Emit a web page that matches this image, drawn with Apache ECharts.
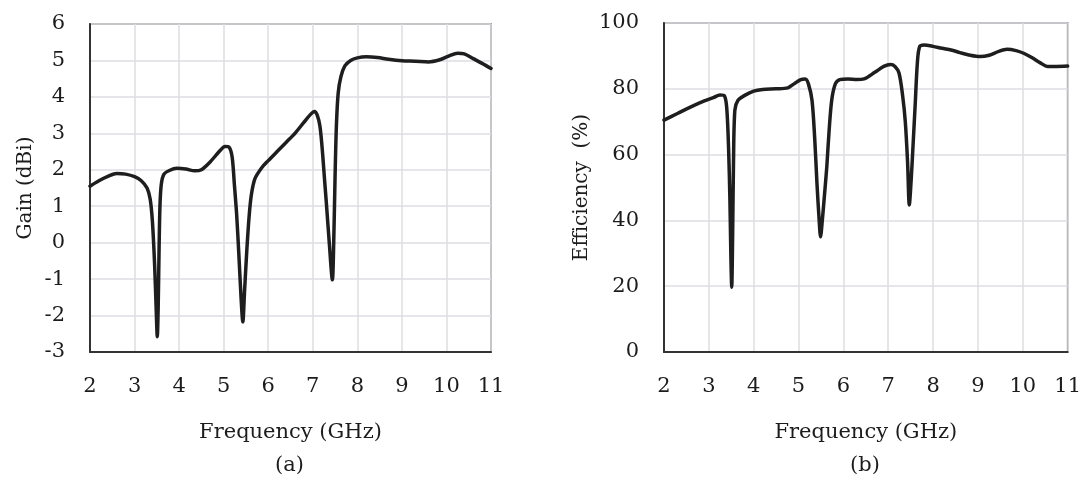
<!DOCTYPE html>
<html>
<head>
<meta charset="utf-8">
<script src="https://cdn.jsdelivr.net/npm/echarts@6/dist/echarts.min.js"></script>
<style>
html,body{margin:0;padding:0;background:#fff;}
#c{width:1084px;height:489px;}
</style>
</head>
<body>
<div id="c"></div>
<script>
// Gain (a): frequency (GHz) and gain (dBi)
const gainFreq = [2.0,2.2,2.4,2.6,2.8,3.0,3.15,3.28,3.35,3.40,3.45,3.49,3.51,3.53,3.55,3.57,3.60,3.66,3.78,3.95,4.15,4.35,4.5,4.7,4.9,5.03,5.12,5.19,5.24,5.29,5.34,5.39,5.43,5.47,5.52,5.57,5.62,5.7,5.85,6.0,6.2,6.4,6.6,6.8,6.95,7.04,7.1,7.16,7.21,7.26,7.31,7.37,7.44,7.47,7.50,7.53,7.57,7.63,7.72,7.85,8.0,8.2,8.45,8.7,9.0,9.3,9.6,9.85,10.05,10.25,10.4,10.6,10.8,11.0];
const gainVal  = [1.55,1.7,1.82,1.9,1.88,1.81,1.7,1.5,1.2,0.6,-0.6,-2.0,-2.58,-1.8,-0.2,1.0,1.6,1.88,1.98,2.04,2.02,1.97,2.0,2.22,2.5,2.64,2.62,2.35,1.6,0.8,-0.3,-1.5,-2.17,-1.3,-0.2,0.7,1.3,1.75,2.05,2.25,2.5,2.75,3.0,3.3,3.52,3.6,3.5,3.2,2.6,1.8,1.0,0.0,-1.02,0.0,1.8,3.2,4.1,4.55,4.85,5.0,5.07,5.1,5.08,5.03,4.99,4.98,4.96,5.02,5.12,5.2,5.18,5.05,4.92,4.78];

// Efficiency (b): frequency (GHz) and efficiency (%)
const effFreq = [2.0,2.3,2.6,2.9,3.1,3.25,3.35,3.40,3.44,3.47,3.49,3.51,3.53,3.55,3.58,3.65,3.8,4.0,4.2,4.5,4.76,4.9,5.05,5.15,5.22,5.30,5.36,5.41,5.46,5.49,5.53,5.58,5.63,5.68,5.74,5.82,5.92,6.1,6.3,6.46,6.7,6.9,7.05,7.15,7.24,7.32,7.38,7.43,7.47,7.51,7.55,7.6,7.65,7.70,7.8,8.0,8.2,8.4,8.6,8.8,9.05,9.25,9.45,9.65,9.85,10.02,10.2,10.4,10.55,10.75,11.0];
const effVal  = [70.5,72.5,74.5,76.3,77.3,78.1,77.8,74,62,46,30,19.7,35,58,73.5,76.5,78,79.3,79.8,80,80.3,81.5,82.8,83,81.5,76.5,65,51.4,40,35,40,48,56.3,67,76.6,81.5,82.8,83,82.8,83,85,86.8,87.4,86.8,84.8,78,70,58,44.7,52,62,75,88,92.8,93.3,92.9,92.3,91.8,91,90.3,89.8,90.2,91.3,92,91.6,90.8,89.5,87.8,86.8,86.8,86.9];

const xTicks = {min: 2, max: 11, interval: 1};
const gainTicks = {min: -3, max: 6, interval: 1};
const effTicks = {min: 0, max: 100, interval: 20};
const xName = 'Frequency (GHz)';
const gainName = 'Gain (dBi)';
const effName = 'Efficiency  (%)';
const captions = ['(a)', '(b)'];

const FONT = 'DejaVu Serif';
const txt = '#1c1c1c';
const gridLineColor = '#dcdde3';

function xAxis(idx){
  return {
    type: 'value', gridIndex: idx,
    min: xTicks.min, max: xTicks.max, interval: xTicks.interval,
    name: xName, nameLocation: 'middle', nameGap: 70,
    nameTextStyle: {fontFamily: FONT, fontSize: 21, color: txt},
    axisLine: {show: true, onZero: false, lineStyle: {color: '#333', width: 2}},
    axisTick: {show: false},
    axisLabel: {fontFamily: FONT, fontSize: 21, color: txt, margin: 24},
    splitLine: {show: true, lineStyle: {color: gridLineColor, width: 1.5}}
  };
}
function yAxis(idx, t, name, gap){
  return {
    type: 'value', gridIndex: idx,
    min: t.min, max: t.max, interval: t.interval,
    name: name, nameLocation: 'middle', nameGap: gap, nameRotate: 90,
    nameTextStyle: {fontFamily: FONT, fontSize: 20, color: txt},
    axisLine: {show: true, onZero: false, lineStyle: {color: '#333', width: 2}},
    axisTick: {show: false},
    axisLabel: {fontFamily: FONT, fontSize: 21, color: txt, margin: 25},
    splitLine: {show: true, lineStyle: {color: gridLineColor, width: 1.5}}
  };
}
function pairs(xs, ys){ return xs.map((x,i)=>[x, ys[i]]); }

const chart = echarts.init(document.getElementById('c'), null, {renderer: 'canvas'});
chart.setOption({
  backgroundColor: '#fff',
  animation: false,
  grid: [
    {left: 90, top: 24, width: 401, height: 328, show: true, borderColor: '#555', borderWidth: 1.5, backgroundColor: 'transparent'},
    {left: 664, top: 23, width: 404, height: 329, show: true, borderColor: '#555', borderWidth: 1.5, backgroundColor: 'transparent'}
  ],
  xAxis: [xAxis(0), xAxis(1)],
  yAxis: [yAxis(0, gainTicks, gainName, 54), yAxis(1, effTicks, effName, 72)],
  graphic: [
    {type: 'text', left: 290 - 15, top: 455, style: {text: captions[0], font: '21px "DejaVu Serif"', fill: txt}},
    {type: 'text', left: 865 - 15, top: 455, style: {text: captions[1], font: '21px "DejaVu Serif"', fill: txt}}
  ],
  series: [
    {type: 'line', xAxisIndex: 0, yAxisIndex: 0, data: pairs(gainFreq, gainVal), showSymbol: false, smooth: 0.3,
     lineStyle: {color: '#1e1e1e', width: 3.5, join: 'round', cap: 'round'}},
    {type: 'line', xAxisIndex: 1, yAxisIndex: 1, data: pairs(effFreq, effVal), showSymbol: false, smooth: 0.3,
     lineStyle: {color: '#1e1e1e', width: 3.5, join: 'round', cap: 'round'}}
  ]
});
</script>
</body>
</html>
